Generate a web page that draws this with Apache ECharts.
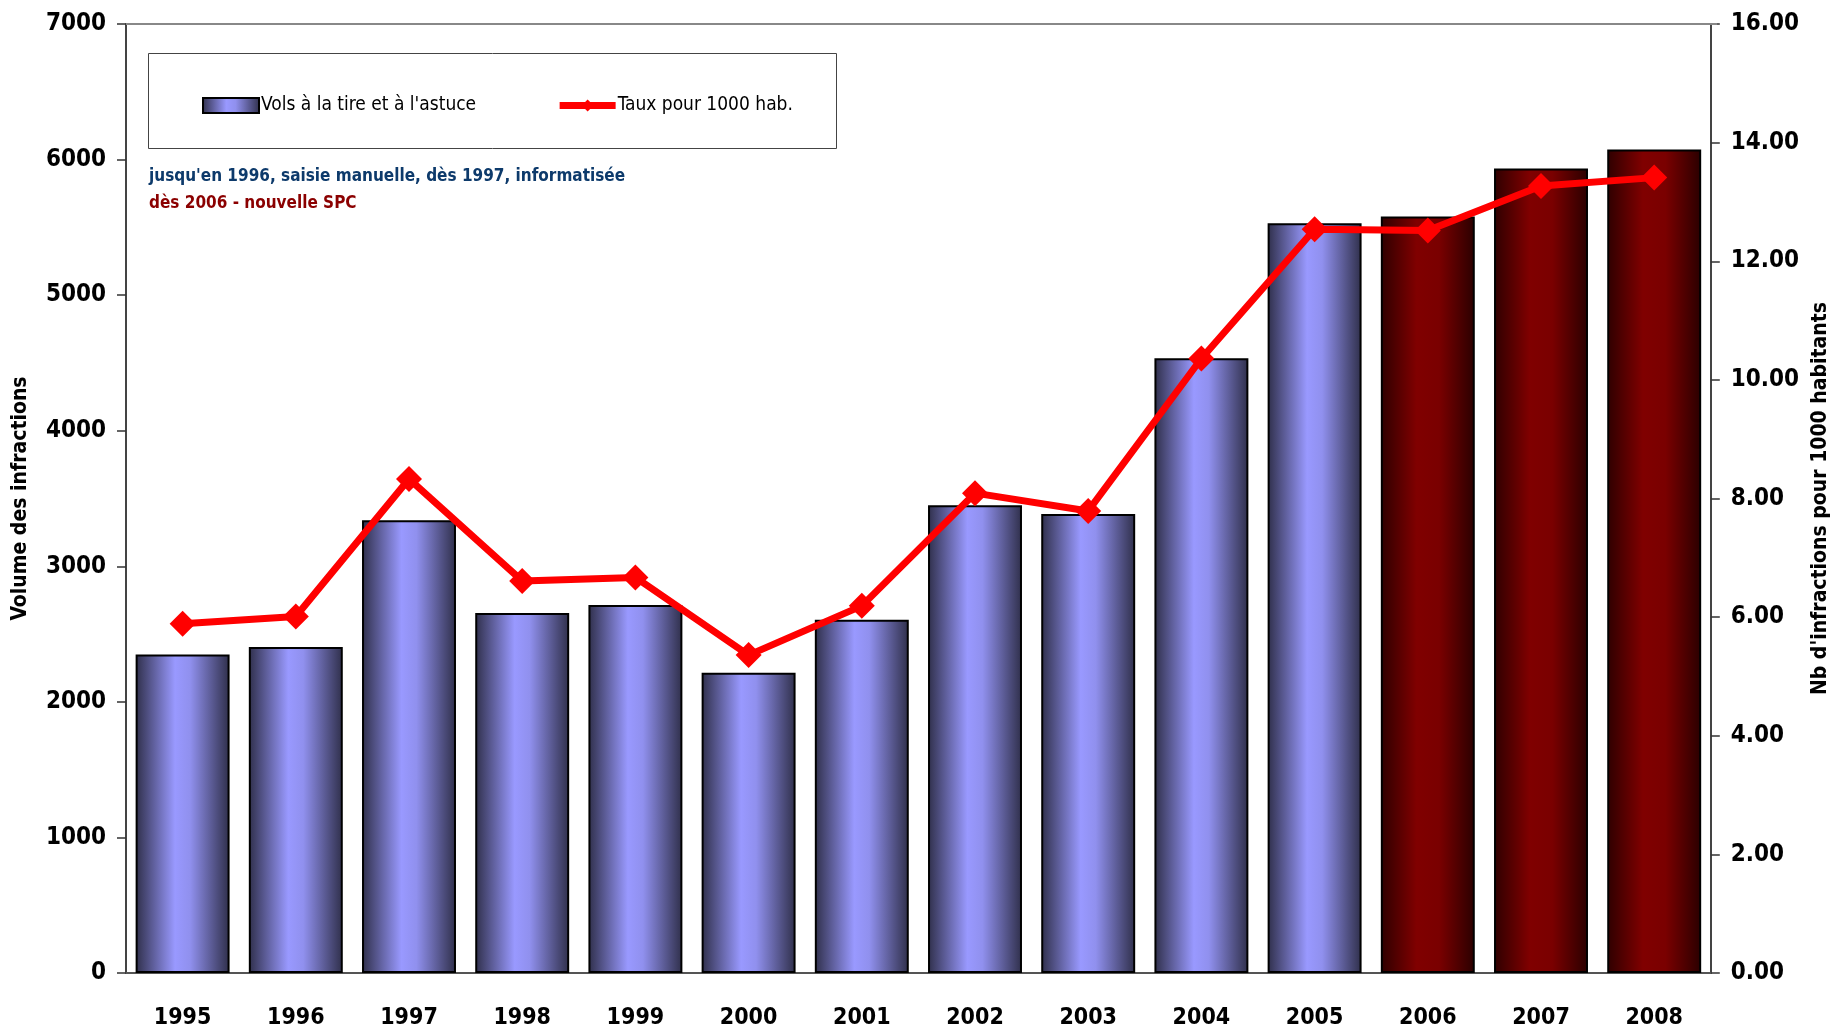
<!DOCTYPE html>
<html>
<head>
<meta charset="utf-8">
<script src="https://cdn.jsdelivr.net/npm/echarts@6/dist/echarts.min.js"></script>
<style>
  html, body { margin: 0; padding: 0; background: #fff; }
  #chart { width: 1839px; height: 1031px; }
</style>
</head>
<body>
<div id="chart"></div>
<script>
// données
const years = ['1995', '1996', '1997', '1998', '1999', '2000', '2001', '2002', '2003', '2004', '2005', '2006', '2007', '2008']
const volumes = [2350, 2405, 3340, 2655, 2715, 2215, 2605, 3450, 3385, 4535, 5530, 5580, 5935, 6075]
const taux = [5.89, 6.01, 8.33, 6.61, 6.67, 5.36, 6.19, 8.09, 7.79, 10.36, 12.54, 12.52, 13.27, 13.41]
// dès 2006 - nouvelle SPC
const newSpcFrom = '2006'
const leftTicks = { min: 0, max: 7000, interval: 1000 }
const rightTicks = { min: 0, max: 16, interval: 2 }

const FONT = '"DejaVu Sans Condensed", "Liberation Sans Narrow", sans-serif'

const blueGrad = {
  type: 'linear', x: 0, y: 0, x2: 1, y2: 0,
  colorStops: [
    { offset: 0, color: '#2f2f4a' },
    { offset: 0.42, color: '#9999ff' },
    { offset: 0.58, color: '#9090ee' },
    { offset: 1, color: '#2f2f4a' },
  ],
}
const redGrad = {
  type: 'linear', x: 0, y: 0, x2: 1, y2: 0,
  colorStops: [
    { offset: 0, color: '#2e0000' },
    { offset: 0.38, color: '#800000' },
    { offset: 0.62, color: '#7a0000' },
    { offset: 1, color: '#2a0000' },
  ],
}

const barData = volumes.map((v, i) => {
  if (years[i] >= newSpcFrom) {
    return { value: v, itemStyle: { color: redGrad } }
  }
  return v
})

const chart = echarts.init(document.getElementById('chart'), null, { renderer: 'canvas' })

const option = {
  animation: false,
  backgroundColor: '#fff',
  textStyle: { fontFamily: FONT },
  grid: { left: 126, right: 122, top: 24, bottom: 58 },
  graphic: [
    // cadre de la légende
    { type: 'rect', left: 148, top: 53, shape: { width: 688, height: 95 },
      style: { fill: '#fff', stroke: '#444', lineWidth: 1 }, z: 1 },
    // trait du haut
    { type: 'line', shape: { x1: 126, y1: 24, x2: 1717, y2: 24 }, style: { stroke: '#888', lineWidth: 2 }, z: 1 },
    { type: 'text', left: 149, top: 168,
      style: { text: "jusqu'en 1996, saisie manuelle, dès 1997, informatisée", fill: '#0d3a6b',
        font: 'bold 17px ' + FONT }, z: 5 },
    { type: 'text', left: 149, top: 195,
      style: { text: 'dès 2006 - nouvelle SPC', fill: '#8b0000', font: 'bold 17px ' + FONT }, z: 5 },
  ],
  legend: {
    left: 197, top: 91,
    itemWidth: 56, itemHeight: 15, itemGap: 80,
    textStyle: { fontFamily: FONT, fontSize: 19, color: '#000', padding: [0, 0, 0, -3] },
    data: [
      { name: 'Vols à la tire et à l\'astuce', icon: 'rect',
        itemStyle: { color: blueGrad, borderColor: '#000', borderWidth: 2 } },
      { name: 'Taux pour 1000 hab.', lineStyle: { width: 7, color: '#ff0000' } },
    ],
    z: 10,
  },
  xAxis: {
    type: 'category',
    data: years,
    axisLine: { lineStyle: { color: '#555', width: 2 } },
    axisTick: { show: false },
    axisLabel: { fontSize: 23, fontWeight: 'bold', color: '#000', margin: 34, fontFamily: FONT },
  },
  yAxis: [
    {
      type: 'value', ...leftTicks,
      name: 'Volume des infractions', nameLocation: 'middle', nameGap: 95, nameRotate: 90,
      nameTextStyle: { fontSize: 21, fontWeight: 'bold', color: '#000', fontFamily: FONT },
      axisLine: { show: true, lineStyle: { color: '#444', width: 2 } },
      axisTick: { show: true, length: 9, lineStyle: { color: '#333', width: 1.5 } },
      splitLine: { show: false },
      axisLabel: { fontSize: 24, fontWeight: 'bold', color: '#000', margin: 20, fontFamily: FONT,
        formatter: (v) => String(v) },
    },
    {
      type: 'value', ...rightTicks,
      name: 'Nb d\'infractions pour 1000 habitants', nameLocation: 'middle', nameGap: 98, nameRotate: 90,
      nameTextStyle: { fontSize: 21, fontWeight: 'bold', color: '#000', fontFamily: FONT },
      axisLine: { show: true, lineStyle: { color: '#444', width: 2 } },
      axisTick: { show: true, length: 9, lineStyle: { color: '#333', width: 1.5 } },
      splitLine: { show: false },
      axisLabel: { fontSize: 24, fontWeight: 'bold', color: '#000', margin: 20, fontFamily: FONT,
        formatter: (v) => v.toFixed(2) },
    },
  ],
  series: [
    {
      name: 'Vols à la tire et à l\'astuce',
      type: 'bar',
      data: barData,
      barWidth: '83%',
      itemStyle: { color: blueGrad, borderColor: '#000', borderWidth: 2 },
      z: 2,
    },
    {
      name: 'Taux pour 1000 hab.',
      type: 'line',
      yAxisIndex: 1,
      data: taux,
      symbol: 'diamond',
      symbolSize: 26,
      lineStyle: { color: '#ff0000', width: 7 },
      itemStyle: { color: '#ff0000' },
      z: 3,
    },
  ],
}

chart.setOption(option)
</script>
</body>
</html>
